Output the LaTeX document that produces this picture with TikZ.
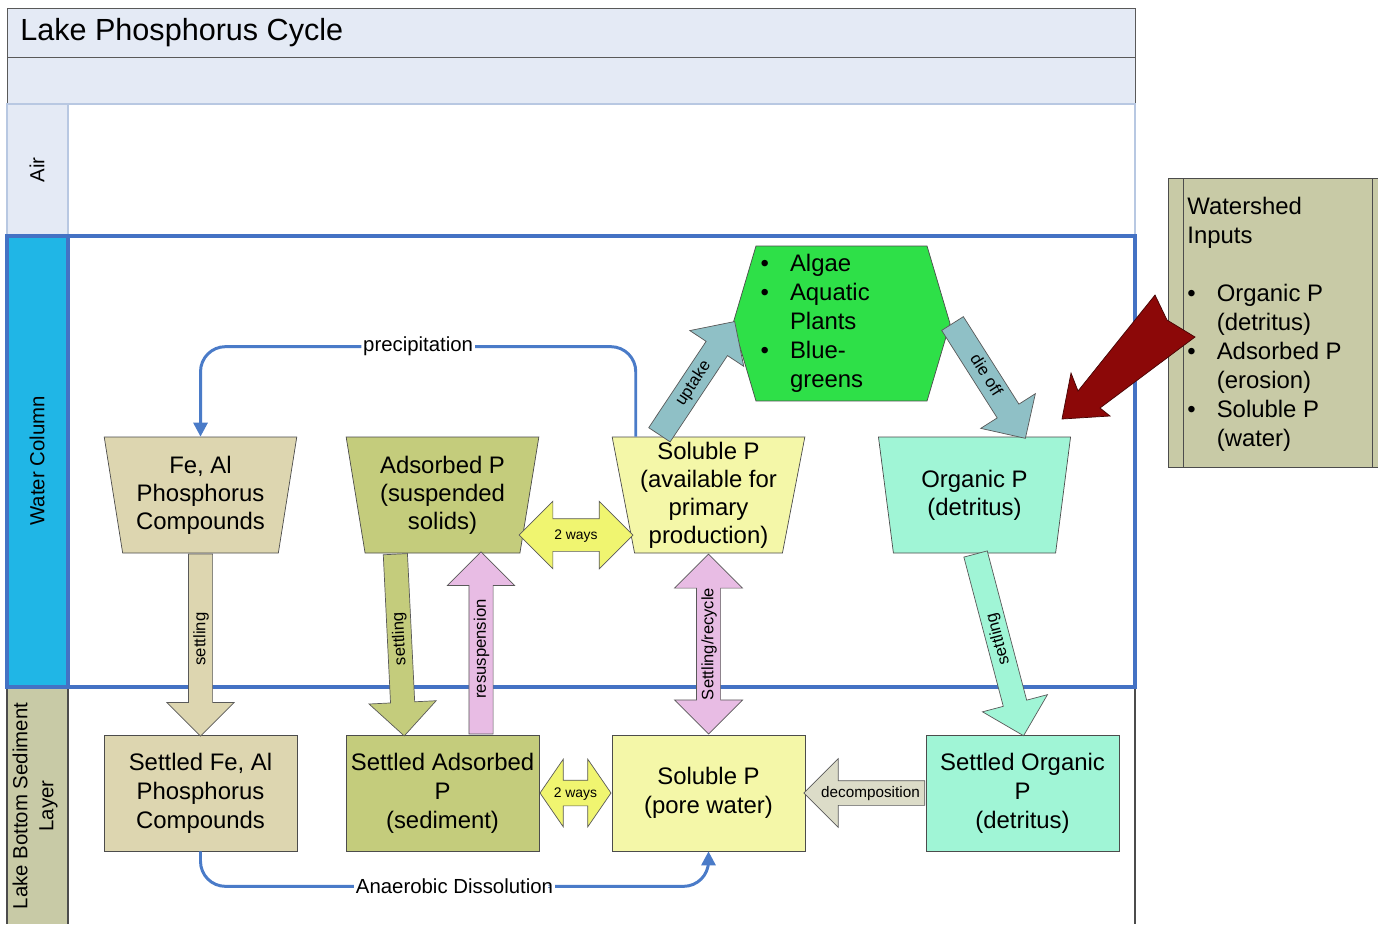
\documentclass[tikz,border=0pt]{standalone}
\usepackage{fontspec}
\setmainfont{Liberation Sans}
\usetikzlibrary{shapes.geometric,shapes.arrows,shapes.symbols,arrows.meta,calc}
\definecolor{titlefill}{RGB}{228,234,245}
\definecolor{airline}{RGB}{184,200,226}
\definecolor{waterblue}{RGB}{68,114,196}
\definecolor{waterlabel}{RGB}{32,182,230}
\definecolor{mudlabel}{RGB}{200,202,166}
\definecolor{tanfill}{RGB}{221,214,176}
\definecolor{olivefill}{RGB}{196,204,124}
\definecolor{paleyellow}{RGB}{244,247,168}
\definecolor{mintfill}{RGB}{160,245,214}
\definecolor{leafgreen}{RGB}{46,224,72}
\definecolor{uptakefill}{RGB}{143,192,198}
\definecolor{pinkfill}{RGB}{232,188,228}
\definecolor{twowayfill}{RGB}{240,245,112}
\definecolor{decompfill}{RGB}{220,220,200}
\definecolor{inflowred}{RGB}{140,8,8}
\definecolor{flowblue}{RGB}{74,123,200}
\tikzset{
    lane-label/.style = {rotate=90, font=\fontsize{11.6}{14.8}\selectfont, align=center},
    trap-box/.style = {trapezium, trapezium left angle=101, trapezium right angle=101, trapezium stretches=true, minimum width=3.86cm, minimum height=2.32cm, inner sep=0pt, draw=black!70, fill=#1, align=center, font=\fontsize{13.6}{16}\selectfont},
    flat-box/.style = {rectangle, minimum width=3.86cm, minimum height=2.32cm, inner sep=0pt, draw=black!70, fill=#1, align=center, font=\fontsize{13.6}{16.5}\selectfont},
    block-arrow/.style = {single arrow, draw=black!65, fill=#1, inner xsep=1pt, inner ysep=0pt, text height=0.33cm, text depth=0.14cm, single arrow head extend=0.43cm, font=\fontsize{9.5}{10}\selectfont},
    two-way/.style = {double arrow, draw=black!65, fill=#1, inner xsep=1pt, inner ysep=0pt, font=\fontsize{7.9}{9}\selectfont},
    flow-line/.style = {draw=flowblue, line width=1.7pt, rounded corners=0.5cm, -{Triangle[length=8pt,width=8pt]}},
    flow-label/.style = {fill=white, inner sep=1pt, font=\fontsize{11.6}{13}\selectfont},
}
\begin{document}
\begin{tikzpicture}[x=0.02cm, y=-0.02cm]
\useasboundingbox (0,0) rectangle (1378,924);
% pool and lanes
\draw[black!65, fill=titlefill] (7,8) rectangle (1135,57);
\draw[black!65, fill=titlefill] (7,57) rectangle (1135,104);
\node[anchor=west, inner sep=0pt, font=\fontsize{17.4}{20}\selectfont] (title) at (20,33) {Lake Phosphorus Cycle};
\fill[mudlabel] (7,687) rectangle (68,924);
\draw[black!70, line width=0.8pt] (7,687) -- (7,924) (68,687) -- (68,924) (1135,687) -- (1135,924);
\draw[airline, line width=1.2pt, fill=white] (7,104) rectangle (1135,236);
\draw[airline, line width=1.2pt, fill=titlefill] (7,104) rectangle (68,236);
\draw[waterblue, line width=2.3pt, fill=white] (7,236) rectangle (1135,687);
\draw[waterblue, line width=2.3pt, fill=waterlabel] (7,236) rectangle (68,687);
\node[lane-label] (air) at (37,170) {Air};
\node[lane-label] (water) at (37,461) {Water Column};
\node[lane-label] (bottom) at (35,806) {Lake Bottom Sediment\\Layer};

% watershed inputs
\fill[mudlabel] (1168,178) rectangle (1378,467);
\draw[black!70] (1378,178) -- (1168,178) -- (1168,467) -- (1378,467);
\draw[black!70] (1183,178) -- (1183,467) (1372,178) -- (1372,467);
\node[anchor=north west, inner sep=0pt, font=\fontsize{13.6}{16.5}\selectfont] (inputs) at (1187,194) {%
  \begin{tabular}{@{}l@{\hspace{12pt}}l@{}}
  \multicolumn{2}{@{}l@{}}{Watershed}\\
  \multicolumn{2}{@{}l@{}}{Inputs}\\
  & \\
  \textbullet & Organic P\\
   & (detritus)\\
  \textbullet & Adsorbed P\\
   & (erosion)\\
  \textbullet & Soluble P\\
   & (water)
  \end{tabular}};

% water column boxes
\node[trap-box=tanfill] (feal) at (200.5,495) {Fe, Al\\Phosphorus\\Compounds};
\node[trap-box=olivefill] (adsp) at (442.5,495) {Adsorbed P\\(suspended\\solids)};
\node[trap-box=paleyellow] (solp) at (708.5,495) {Soluble P\\(available for\\primary\\production)};
\node[trap-box=mintfill] (orgp) at (974.5,495) {Organic P\\(detritus)};
\node[signal, signal to=west and east, signal pointer angle=147, minimum width=4.34cm, minimum height=3.1cm, inner sep=0pt, draw=black!70, fill=leafgreen, font=\fontsize{13.6}{16.5}\selectfont] (plants) at (841.5,323.5) {%
  \begin{tabular}{@{}l@{\hspace{12pt}}l@{\hspace{30pt}}}
  \textbullet & Algae\\
  \textbullet & Aquatic\\
   & Plants\\
  \textbullet & Blue-\\
   & greens
  \end{tabular}};

% sediment boxes
\node[flat-box=tanfill] (sfeal) at (200.5,793) {Settled Fe, Al\\Phosphorus\\Compounds};
\node[flat-box=olivefill] (sadsp) at (442.5,793) {Settled Adsorbed\\P\\(sediment)};
\node[flat-box=paleyellow] (pore) at (708.5,793) {Soluble P\\(pore water)};
\node[flat-box=mintfill] (sorgp) at (1022.5,793) {Settled Organic\\P\\(detritus)};

% blue flows
\draw[flow-line] ($(solp.top left corner)+(24,0)$) |- node[flow-label, pos=0.75] {precipitation} ($(feal.north)+(0,-90)$) -- (feal.north);
\draw[flow-line] (sfeal.south) |- node[flow-label, pos=0.75] {Anaerobic Dissolution} ($(pore.south)+(0,35)$) -- (pore.south);

% block arrows
\node[block-arrow=tanfill, minimum height=3.64cm, rotate=90, shape border rotate=180] (feal-settle) at ($(feal.south)!0.5!(sfeal.north)+(0,-5)$) {settling};
\node[block-arrow=olivefill, minimum height=3.64cm, rotate=92.8, shape border rotate=180] (adsp-settle) at (399.5,639) {settling};
\node[block-arrow=pinkfill, minimum height=3.64cm, rotate=90] (resusp) at (481,649) {resuspension};
\node[two-way=pinkfill, minimum height=3.6cm, text height=0.33cm, text depth=0.14cm, double arrow head extend=0.44cm, rotate=90, font=\fontsize{9.4}{10}\selectfont] (recycle) at ($(solp.south)!0.5!(pore.north)$) {Settling/recycle};
\node[two-way=twowayfill, minimum height=2.28cm, text height=0.40cm, text depth=0.24cm, double arrow head extend=0.35cm] (upper-2way) at (576,535) {\makebox[0pt]{2 ways}};
\node[two-way=twowayfill, minimum height=1.42cm, text height=0.33cm, text depth=0.17cm, double arrow head extend=0.42cm, double arrow tip angle=111] (lower-2way) at ($(sadsp.east)!0.5!(pore.west)$) {\makebox[0pt]{2 ways}};
\node[block-arrow=decompfill, minimum height=2.42cm, text height=0.32cm, text depth=0.16cm, single arrow head extend=0.44cm, shape border rotate=180, font=\fontsize{8.7}{10}\selectfont] (decomp) at ($(pore.east)!0.5!(sorgp.west)+(5,0)$) {\makebox[0pt]{decomposition}};
\node[block-arrow=uptakefill, minimum height=2.72cm, text height=0.34cm, text depth=0.16cm, single arrow head extend=0.39cm, rotate=56.4] (uptake) at (693.5,383.5) {uptake};
\node[block-arrow=uptakefill, minimum height=2.72cm, text height=0.34cm, text depth=0.16cm, single arrow head extend=0.39cm, rotate=-57.6] (dieoff) at (985.5,375.5) {die off};
\node[block-arrow=mintfill, minimum height=3.76cm, rotate=104.8, shape border rotate=180] (orgp-settle) at (998,639) {settling};

% watershed inflow
\draw[black!50!inflowred, fill=inflowred] (1062,419) -- (1071,373) -- (1078,391) -- (1155,295) -- (1167,320) -- (1195,337) -- (1100,408) -- (1110,416) -- cycle;
\end{tikzpicture}
\end{document}
